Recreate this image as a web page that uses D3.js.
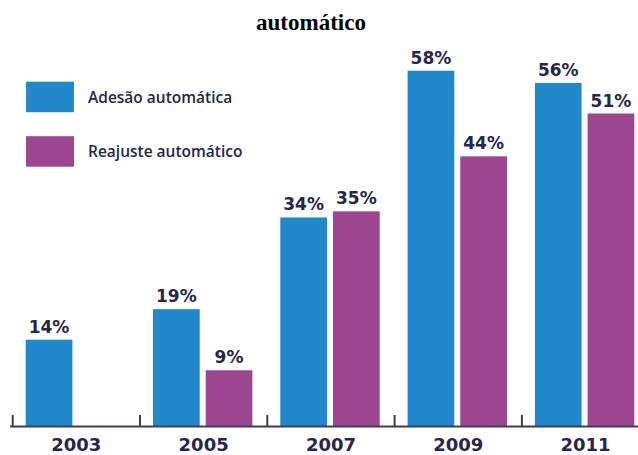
<!DOCTYPE html>
<html>
<head>
<meta charset="utf-8">
<script src="https://cdn.jsdelivr.net/npm/d3@7"></script>
<style>
  html, body { margin: 0; padding: 0; background: #fff; }
  svg { display: block; }
</style>
</head>
<body>
<svg id="chart" width="638" height="455"></svg>
<script>
// Data
const years = ["2003", "2005", "2007", "2009", "2011"];
const seriesNames = ["Adesão automática", "Reajuste automático"];
const adesao = [14, 19, 34, 58, 56];
const reajuste = [null, 9, 35, 44, 51];
const seriesColors = ["#2188cb", "#9c468f"];

const navy = "#28254a";
const numFont = "'DejaVu Sans', sans-serif";

const svg = d3.select("#chart");

// Scales
const x = d3.scaleBand().domain(years).range([12.7, 649.2]).padding(0);
const xInner = d3.scaleBand().domain([0, 1]).range([13, 112.4]).paddingInner(0.114).paddingOuter(0);
const y = d3.scaleLinear().domain([0, 60]).range([425.3, 58.5]);
const axisY = 426.5;

// Title
svg.append("text")
  .attr("x", 311).attr("y", 30)
  .attr("text-anchor", "middle")
  .style("font-family", "'Liberation Serif', 'Times New Roman', serif")
  .style("font-weight", "bold")
  .style("font-size", "23px")
  .attr("fill", "#000")
  .text("automático");

// Bars
const rows = years.map((yr, i) => ({ year: yr, values: [adesao[i], reajuste[i]] }));
const groups = svg.append("g").selectAll("g")
  .data(rows).join("g")
  .attr("transform", d => `translate(${x(d.year)},0)`);

const cells = groups.selectAll("g.cell")
  .data(d => d.values.map((v, s) => ({ v, s })).filter(d => d.v !== null))
  .join("g").attr("class", "cell");

cells.append("rect")
  .attr("x", d => xInner(d.s))
  .attr("width", xInner.bandwidth())
  .attr("y", d => y(d.v))
  .attr("height", d => axisY - y(d.v))
  .attr("fill", d => seriesColors[d.s]);

cells.append("text")
  .attr("x", d => xInner(d.s) + xInner.bandwidth() / 2)
  .attr("y", d => y(d.v) - 7)
  .attr("text-anchor", "middle")
  .style("font-family", numFont)
  .style("font-weight", "bold")
  .style("font-size", "17px")
  .attr("fill", navy)
  .text(d => d.v + "%");

// Axis line and ticks
svg.append("line")
  .attr("x1", 10).attr("x2", 638)
  .attr("y1", axisY).attr("y2", axisY)
  .attr("stroke", "#3e3a5e").attr("stroke-width", 2);

svg.append("g").selectAll("line")
  .data(years).join("line")
  .attr("x1", d => x(d)).attr("x2", d => x(d))
  .attr("y1", 415).attr("y2", axisY)
  .attr("stroke", "#3e3a5e").attr("stroke-width", 2);

// Year labels
svg.append("g").selectAll("text")
  .data(years).join("text")
  .attr("x", d => x(d) + x.bandwidth() / 2)
  .attr("y", 450.5)
  .attr("text-anchor", "middle")
  .style("font-family", numFont)
  .style("font-weight", "bold")
  .style("font-size", "18px")
  .attr("fill", navy)
  .text(d => d);

// Legend
const legend = svg.append("g").selectAll("g")
  .data(seriesNames).join("g")
  .attr("transform", (d, i) => `translate(26,${81.7 + i * 54.5})`);

legend.append("rect")
  .attr("width", 48).attr("height", 30.5)
  .attr("fill", (d, i) => seriesColors[i]);

legend.append("text")
  .attr("x", 62).attr("y", 21)
  .style("font-family", "'Open Sans', sans-serif")
  .style("font-weight", "600")
  .style("font-size", "15.5px")
  .attr("fill", navy)
  .text(d => d);
</script>
</body>
</html>
